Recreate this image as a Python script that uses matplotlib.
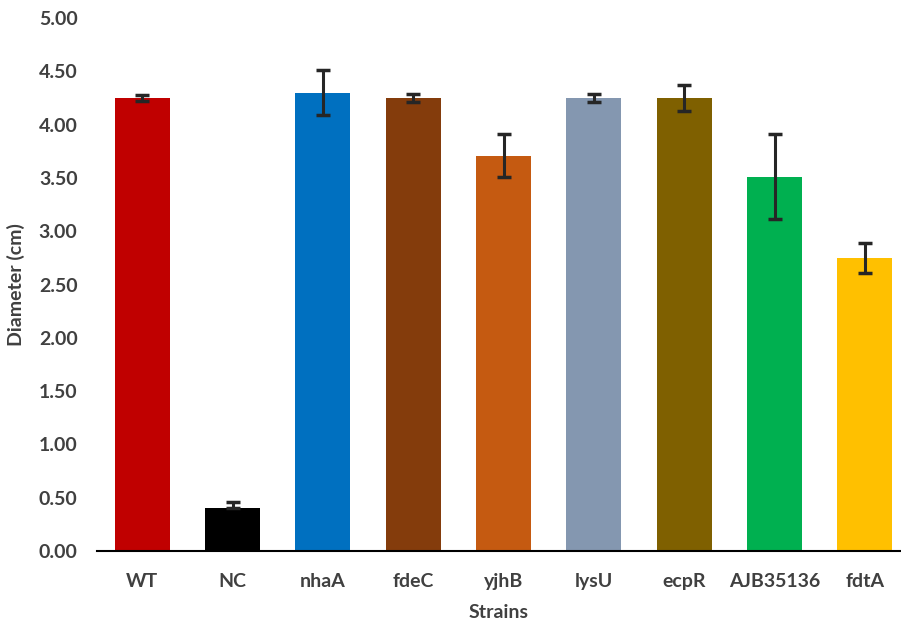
import matplotlib
matplotlib.use("Agg")
import matplotlib.pyplot as plt
import numpy as np

strains = ["WT", "NC", "nhaA", "fdeC", "yjhB", "lysU", "ecpR", "AJB35136", "fdtA"]
diameter = [4.25, 0.40, 4.30, 4.25, 3.71, 4.25, 4.25, 3.51, 2.75]
err_up = [0.03, 0.06, 0.21, 0.04, 0.20, 0.04, 0.12, 0.40, 0.14]
err_down = [0.03, 0.0, 0.21, 0.04, 0.20, 0.04, 0.12, 0.40, 0.14]
colors = ["#C00000", "#000000", "#0070C0", "#843C0C", "#C55A11",
          "#8497B0", "#7F6000", "#00B050", "#FFC000"]
yticks = [0.0, 0.5, 1.0, 1.5, 2.0, 2.5, 3.0, 3.5, 4.0, 4.5, 5.0]

plt.rcParams['font.family'] = ['Lato', 'DejaVu Sans']
plt.rcParams['font.weight'] = 'bold'
txt = '#404040'

fig = plt.figure(figsize=(9.01, 6.24), dpi=100)
ax = fig.add_axes([97/901, 73/624, 804/901, 533/624])

x = np.arange(len(strains))
ax.bar(x, diameter, width=0.61, color=colors, zorder=2)
ax.errorbar(x, diameter, yerr=[err_down, err_up], fmt='none', ecolor='#262626',
            elinewidth=2.2, capsize=5, capthick=2.5, zorder=3)

ax.set_xlim(-0.5, 8.4)
ax.set_ylim(0, 5)
ax.set_yticks(yticks)
ax.set_yticklabels([f"{v:.2f}" for v in yticks])
ax.set_xticks(x)
ax.set_xticklabels(strains)
ax.tick_params(length=0, labelsize=14, colors=txt)
ax.tick_params(axis='y', pad=14)
ax.tick_params(axis='x', pad=16)
for s in ['top', 'right', 'left']:
    ax.spines[s].set_visible(False)
ax.spines['bottom'].set_linewidth(1.5)
ax.spines['bottom'].set_color('#000000')

ax.set_xlabel('Strains', fontsize=14, color=txt, fontweight='bold', labelpad=10)
ax.set_ylabel('Diameter (cm)', fontsize=14, color=txt, fontweight='bold', labelpad=10)

fig.savefig('out.png', dpi=100)
